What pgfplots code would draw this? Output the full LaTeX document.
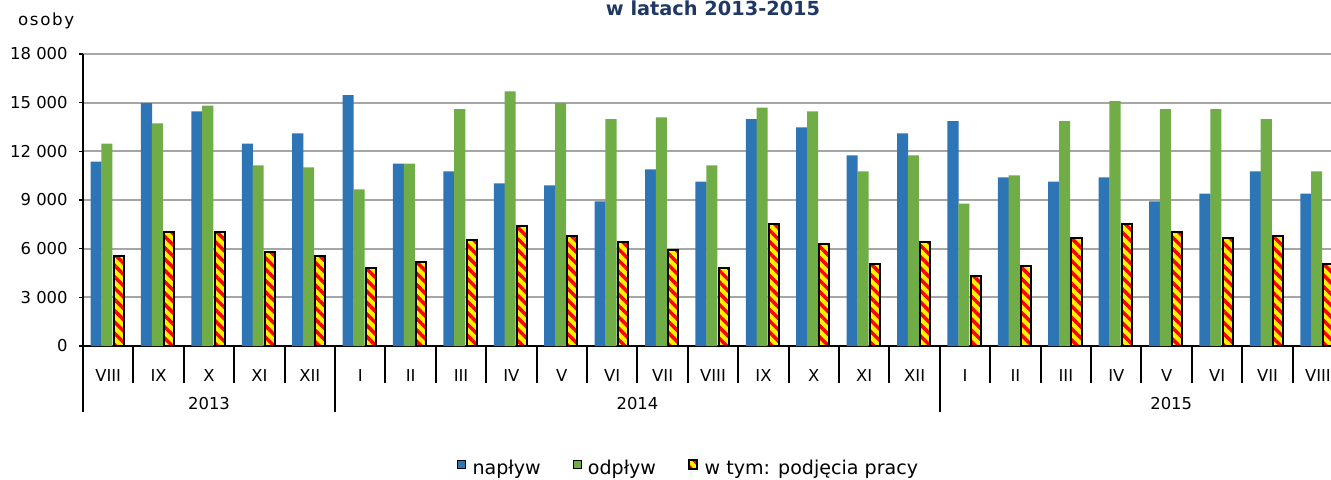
\documentclass[border=0pt]{standalone}
\usepackage{fontspec}
\setmainfont{DejaVu Sans}
\newfontfamily\spaced{DejaVu Sans}[LetterSpace=10]
\usepackage{pgfplots}
\pgfplotsset{compat=1.18}
\usetikzlibrary{patterns.meta}
\definecolor{napblue}{RGB}{46,117,182}
\definecolor{odpgreen}{RGB}{112,173,71}
\definecolor{gridgray}{RGB}{166,166,166}
\definecolor{titleblue}{RGB}{31,56,100}
\pgfplotsset{sqlegend/.style={legend image code/.code={\draw[##1] (0pt,-0.5pt) rectangle (6pt,6pt);}}}

\begin{document}
\begin{tikzpicture}
\useasboundingbox (0,0) rectangle (998.25pt,359.25pt);
\clip (0,0) rectangle (998.25pt,359.25pt);
\node[anchor=base, text=titleblue, font=\bfseries\fontsize{14.5}{17}\selectfont] at (534.75pt,347.5pt) {w latach 2013-2015};
\node[anchor=base west, font=\spaced\fontsize{12.5}{14}\selectfont] at (10pt,340pt) {osoby};
\begin{axis}[
  at={(62.25pt,99.75pt)}, anchor=south west,
  scale only axis, width=936pt, height=219pt,
  xmin=-0.5, xmax=24.26, ymin=0, ymax=18000,
  clip=false,
  axis x line=bottom, axis y line=left,
  axis line style={-, black, line width=1.5pt},
  tick align=outside, major tick length=3pt, minor tick length=27.75pt,
  xtick={0,...,24},
  xticklabels={VIII,IX,X,XI,XII,I,II,III,IV,V,VI,VII,VIII,IX,X,XI,XII,I,II,III,IV,V,VI,VII,VIII},
  minor xtick={-0.5,0.5,...,23.5},
  major x tick style={draw=none},
  minor x tick style={black, line width=1.5pt},
  ytick={0,3000,...,18000},
  ytick style={black, line width=1.2pt},
  scaled y ticks=false,
  /pgf/number format/assume math mode=true,
  yticklabel style={/pgf/number format/1000 sep={\ }, xshift=-5pt},
  ticklabel style={font=\fontsize{12.3}{14}\selectfont},
  xticklabel style={anchor=base, yshift=-23.25pt},
  ymajorgrids, major grid style={gridgray, line width=1.3pt},
  legend columns=3,
  legend style={at={(0.4856,-0.4177)}, anchor=center, draw=none, fill=none,
    font=\fontsize{14.3}{16}\selectfont,
    /tikz/every odd column/.append style={column sep=3pt},
    /tikz/every even column/.append style={column sep=22pt}},
  after end axis/.code={
    \draw[black, line width=1.5pt] (axis cs:-0.5,0) -- ++(0pt,-49.5pt);
    \draw[black, line width=1.5pt] (axis cs:4.5,0) -- ++(0pt,-49.5pt);
    \draw[black, line width=1.5pt] (axis cs:16.5,0) -- ++(0pt,-49.5pt);
    \node[anchor=base, font=\fontsize{12.3}{14}\selectfont, yshift=-47.25pt] at (axis cs:2,0) {2013};
    \node[anchor=base, font=\fontsize{12.3}{14}\selectfont, yshift=-47.25pt] at (axis cs:10.5,0) {2014};
    \node[anchor=base, font=\fontsize{12.3}{14}\selectfont, yshift=-47.25pt] at (axis cs:21.09,0) {2015};
  },
]
% napływ
\addplot[ybar, bar width=0.22, bar shift=-0.24, fill=napblue, draw=none, sqlegend]
  coordinates {
  (0,11360) (1,14970) (2,14470) (3,12470) (4,13110)
  (5,15460) (6,11240) (7,10760) (8,10020) (9,9900) (10,8910) (11,10890)
  (12,10140) (13,13980) (14,13480) (15,11750) (16,13110)
  (17,13860) (18,10390) (19,10140) (20,10390) (21,8910) (22,9400) (23,10760) (24,9400)};
% odpływ
\addplot[ybar, bar width=0.22, bar shift=-0.025, fill=odpgreen, draw=none, sqlegend]
  coordinates {
  (0,12470) (1,13730) (2,14820) (3,11130) (4,11010)
  (5,9650) (6,11240) (7,14600) (8,15690) (9,14970) (10,13980) (11,14100)
  (12,11130) (13,14700) (14,14470) (15,10760) (16,11750)
  (17,8780) (18,10520) (19,13860) (20,15090) (21,14600) (22,14600) (23,13980) (24,10760)};
% w tym: podjęcia pracy
\addplot[ybar, bar width=0.2, bar shift=0.21, draw=black, line width=1.5pt,
  preaction={fill=yellow},
  pattern={Lines[angle=-45,distance=6pt,line width=2.6pt]}, pattern color=red,
  sqlegend]
  coordinates {
  (0,5530) (1,7010) (2,7010) (3,5770) (4,5530)
  (5,4800) (6,5180) (7,6520) (8,7400) (9,6760) (10,6390) (11,5900)
  (12,4780) (13,7510) (14,6290) (15,5050) (16,6410)
  (17,4290) (18,4910) (19,6660) (20,7510) (21,7010) (22,6640) (23,6760) (24,5050)};
\legend{napływ, odpływ, w tym: podjęcia pracy}
\end{axis}
\end{tikzpicture}
\end{document}
